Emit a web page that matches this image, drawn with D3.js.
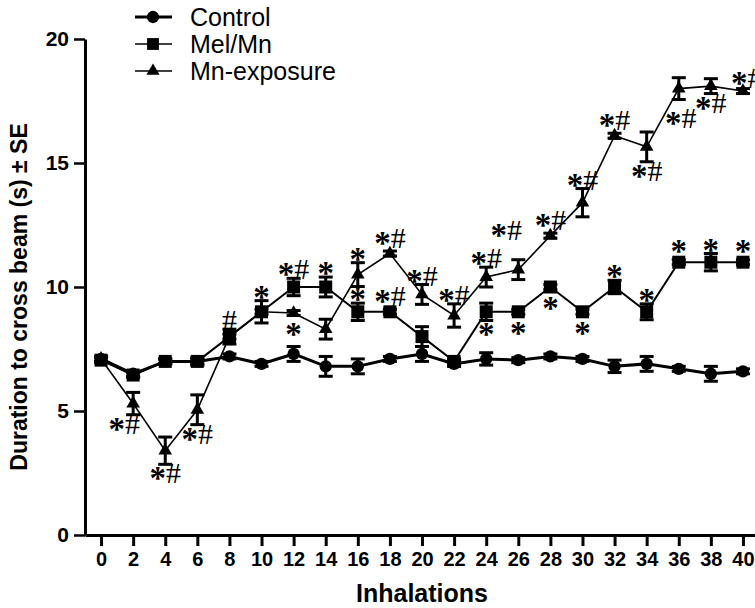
<!DOCTYPE html>
<html>
<head>
<meta charset="utf-8">
<script src="https://cdn.jsdelivr.net/npm/d3@7"></script>
<style>
body { margin: 0; background: #fff; }
</style>
</head>
<body>
<script>
// values
var inhalations = [0, 2, 4, 6, 8, 10, 12, 14, 16, 18, 20, 22, 24, 26, 28, 30, 32, 34, 36, 38, 40];
var yTicks = [0, 5, 10, 15, 20];

var controlMean = [7.1, 6.5, 7.0, 7.0, 7.2, 6.9, 7.3, 6.8, 6.8, 7.1, 7.3, 6.9, 7.1, 7.05, 7.2, 7.1, 6.8, 6.9, 6.7, 6.5, 6.6];
var controlSE   = [0.1, 0.1, 0.1, 0.1, 0.1, 0.1, 0.3, 0.4, 0.3, 0.1, 0.3, 0.1, 0.25, 0.1, 0.1, 0.1, 0.25, 0.3, 0.1, 0.3, 0.1];

var melMean = [7.05, 6.45, 7.0, 7.0, 8.0, 9.0, 10.0, 10.0, 9.0, 9.0, 8.0, 7.0, 9.0, 9.0, 10.0, 9.0, 10.0, 9.0, 11.0, 11.0, 11.0];
var melSE   = [0.1, 0.1, 0.1, 0.15, 0.3, 0.45, 0.35, 0.4, 0.35, 0.1, 0.4, 0.1, 0.35, 0.1, 0.1, 0.1, 0.27, 0.32, 0.1, 0.35, 0.1];

var mnMean = [7.1, 5.3, 3.4, 5.05, 8.0, 9.0, 8.95, 8.3, 10.5, 11.35, 9.7, 8.85, 10.4, 10.7, 12.07, 13.4, 16.1, 15.65, 18.0, 18.1, 17.9];
var mnSE   = [0.1, 0.45, 0.55, 0.6, 0.1, 0.1, 0.1, 0.4, 0.48, 0.1, 0.4, 0.47, 0.4, 0.4, 0.1, 0.57, 0.1, 0.6, 0.44, 0.3, 0.1];

// significance marks: x = inhalation, t = text, s = side of the point
var mnMarks = [
  {x: 2, t: "*#", s: "bl"}, {x: 4, t: "*#", s: "b"}, {x: 6, t: "*#", s: "b"},
  {x: 12, t: "*", s: "b"}, {x: 16, t: "*", s: "a"}, {x: 18, t: "*#", s: "a"},
  {x: 20, t: "*#", s: "a"}, {x: 22, t: "*#", s: "a"}, {x: 24, t: "*#", s: "a"},
  {x: 26, t: "*#", s: "al"}, {x: 28, t: "*#", s: "a"}, {x: 30, t: "*#", s: "a"},
  {x: 32, t: "*#", s: "a"}, {x: 34, t: "*#", s: "b"}, {x: 36, t: "*#", s: "b2"},
  {x: 38, t: "*#", s: "b"}, {x: 40, t: "*#", s: "r"}
];
var melMarks = [
  {x: 8, t: "#", s: "a"}, {x: 10, t: "*", s: "a"}, {x: 12, t: "*#", s: "a"},
  {x: 14, t: "*", s: "a"}, {x: 16, t: "*", s: "a"}, {x: 18, t: "*#", s: "a"},
  {x: 24, t: "*", s: "b"}, {x: 26, t: "*", s: "b"}, {x: 28, t: "*", s: "b"},
  {x: 30, t: "*", s: "b"}, {x: 32, t: "*", s: "a"}, {x: 34, t: "*", s: "a"},
  {x: 36, t: "*", s: "a"}, {x: 38, t: "*", s: "a"}, {x: 40, t: "*", s: "a"}
];

var seriesNames = ["Control", "Mel/Mn", "Mn-exposure"];

var series = [
  {name: "Mn-exposure", mean: mnMean, se: mnSE, marks: mnMarks, symbol: d3.symbolTriangle, size: 80, lw: 1.6},
  {name: "Mel/Mn", mean: melMean, se: melSE, marks: melMarks, symbol: d3.symbolSquare, size: 169, lw: 2},
  {name: "Control", mean: controlMean, se: controlSE, marks: [], symbol: d3.symbolCircle, size: 120, lw: 3}
];

var svg = d3.select("body").append("svg")
  .attr("width", 755)
  .attr("height", 608)
  .style("font-family", "'Liberation Sans', Arial, sans-serif");

var x = d3.scaleLinear().domain([-1, 41]).range([85, 759]);
var y = d3.scaleLinear().domain([0, 20]).range([535, 39]);

// axes
var yAxis = svg.append("g")
  .attr("transform", "translate(85,0)")
  .call(d3.axisLeft(y).tickValues(yTicks).tickSize(11).tickSizeOuter(0).tickPadding(5));
yAxis.select(".domain").attr("stroke-width", 3);
yAxis.selectAll(".tick line").attr("stroke-width", 2.5);
yAxis.selectAll(".tick text").attr("font-size", 21).attr("font-weight", "bold").attr("fill", "#000");

var xAxis = svg.append("g")
  .attr("transform", "translate(0,535)")
  .call(d3.axisBottom(x).tickValues(inhalations).tickSize(11).tickSizeOuter(0).tickPadding(6));
xAxis.select(".domain").attr("stroke-width", 3);
xAxis.selectAll(".tick line").attr("stroke-width", 3);
xAxis.selectAll(".tick text").attr("font-size", 20).attr("font-weight", "bold").attr("fill", "#000");

svg.append("text")
  .attr("x", 422).attr("y", 602)
  .attr("text-anchor", "middle")
  .attr("font-size", 25).attr("font-weight", "bold")
  .text("Inhalations");

svg.append("text")
  .attr("transform", "translate(27,297) rotate(-90)")
  .attr("text-anchor", "middle")
  .attr("font-size", 23).attr("font-weight", "bold")
  .text("Duration to cross beam (s) \u00b1 SE");

// series
var line = d3.line();

series.forEach(function (s) {
  var pts = inhalations.map(function (v, i) { return {x: v, m: s.mean[i], e: s.se[i]}; });
  var g = svg.append("g");

  g.append("path")
    .attr("d", line(pts.map(function (p) { return [x(p.x), y(p.m)]; })))
    .attr("fill", "none")
    .attr("stroke", "#000")
    .attr("stroke-width", s.lw);

  // error bars
  var eb = g.selectAll(".eb").data(pts).enter().append("g");
  eb.append("line")
    .attr("x1", function (p) { return x(p.x); }).attr("x2", function (p) { return x(p.x); })
    .attr("y1", function (p) { return y(p.m - p.e); }).attr("y2", function (p) { return y(p.m + p.e); })
    .attr("stroke", "#000").attr("stroke-width", 3);
  [1, -1].forEach(function (sign) {
    eb.append("line")
      .attr("x1", function (p) { return x(p.x) - 7; }).attr("x2", function (p) { return x(p.x) + 7; })
      .attr("y1", function (p) { return y(p.m + sign * p.e); }).attr("y2", function (p) { return y(p.m + sign * p.e); })
      .attr("stroke", "#000").attr("stroke-width", 3);
  });

  g.selectAll(".pt").data(pts).enter().append("path")
    .attr("transform", function (p) { return "translate(" + x(p.x) + "," + y(p.m) + ")"; })
    .attr("d", d3.symbol().type(s.symbol).size(s.size))
    .attr("fill", "#000");

  // significance marks
  s.marks.forEach(function (mk) {
    var i = inhalations.indexOf(mk.x);
    var m = s.mean[i], e = s.se[i];
    var px = x(mk.x), py = y(m);
    var top = Math.min(y(m + e), py - 7), bot = Math.max(y(m - e), py + 7);
    var cx = px, cy, anchor = "middle";
    if (mk.s === "a") cy = top - 9;
    else if (mk.s === "b") cy = bot + 9;
    else if (mk.s === "bl") { cx = px - 9; cy = bot + 9; }
    else if (mk.s === "al") { cx = px - 12; cy = top - 30; }
    else if (mk.s === "b2") { cx = px + 2; cy = bot + 18; }
    else if (mk.s === "r") { cx = px - 12; cy = py - 13; anchor = "start"; }

    var txt = svg.append("text")
      .attr("x", cx).attr("y", cy + 10)
      .attr("text-anchor", anchor)
      .attr("font-family", "'Liberation Serif', 'Times New Roman', serif")
      .attr("font-size", 30);
    mk.t.split("").forEach(function (ch) {
      if (ch === "*") {
        txt.append("tspan").attr("font-size", 33).attr("font-weight", "bold").attr("dy", 6).text("*");
      } else {
        txt.append("tspan").attr("dy", mk.t.length > 1 ? -6 : 0).text(ch);
      }
    });
  });
});

// legend
var legendStyle = {
  "Control": {symbol: d3.symbolCircle, size: 120, lw: 3},
  "Mel/Mn": {symbol: d3.symbolSquare, size: 140, lw: 1.7},
  "Mn-exposure": {symbol: d3.symbolTriangle, size: 75, lw: 1.5}
};
var legend = svg.selectAll(".leg").data(seriesNames).enter().append("g")
  .attr("transform", function (d, i) { return "translate(135," + (17 + i * 27) + ")"; });
legend.append("line")
  .attr("x1", 0).attr("x2", 37)
  .attr("stroke", "#000")
  .attr("stroke-width", function (d) { return legendStyle[d].lw; });
legend.append("path")
  .attr("transform", "translate(18,0)")
  .attr("d", function (d) { return d3.symbol().type(legendStyle[d].symbol).size(legendStyle[d].size)(); })
  .attr("fill", "#000");
legend.append("text")
  .attr("x", 55).attr("y", 9)
  .attr("font-size", 25)
  .text(function (d) { return d; });
</script>
</body>
</html>
